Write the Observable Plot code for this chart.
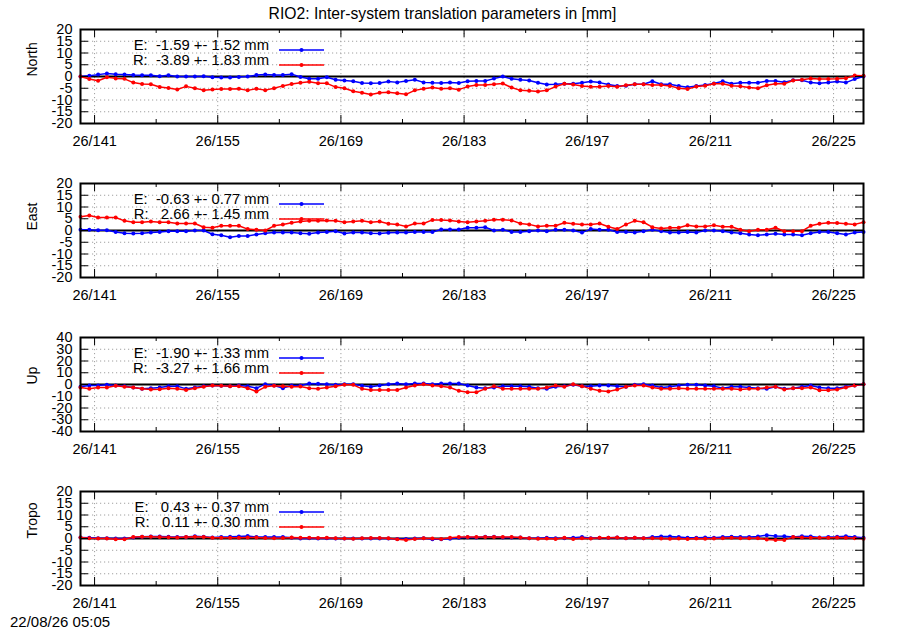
<!DOCTYPE html>
<html><head><meta charset="utf-8">
<script src="https://cdn.jsdelivr.net/npm/d3@7"></script>
<script src="https://cdn.jsdelivr.net/npm/@observablehq/plot@0.6"></script>
<style>
html,body{margin:0;padding:0;background:#fff;}
#wrap{position:relative;width:900px;height:630px;overflow:hidden;font-family:"Liberation Sans",Arial,Helvetica,sans-serif;color:#000;}
.title{position:absolute;left:0;width:885px;top:5px;text-align:center;font-size:15.7px;line-height:18px;}
.stamp{position:absolute;left:10px;top:613px;font-size:15px;line-height:17px;}
.panel{position:absolute;left:0;}
.legtext{position:absolute;left:0;width:269px;text-align:right;font-size:14.8px;line-height:16px;white-space:pre;}
.legkey{position:absolute;left:279px;width:45px;height:10px;}
</style>
</head><body>
<div id="wrap"></div>
<script>
// ---------------- data ----------------
const titleText = "RIO2: Inter-system translation parameters in [mm]";
const stampText = "22/08/26 05:05";
const panelNames = ["North", "East", "Up", "Tropo"];

const days = [139.4,140.4,141.4,142.4,143.4,144.4,145.4,146.4,147.4,148.4,
  149.4,150.4,151.4,152.4,153.4,154.4,155.4,156.4,157.4,158.4,
  159.4,160.4,161.4,162.4,163.4,164.4,165.4,166.4,167.4,168.4,
  169.4,170.4,171.4,172.4,173.4,174.4,175.4,176.4,177.4,178.4,
  179.4,180.4,181.4,182.4,183.4,184.4,185.4,186.4,187.4,188.4,
  189.4,190.4,191.4,192.4,193.4,194.4,195.4,196.4,197.4,198.4,
  199.4,200.4,201.4,202.4,203.4,204.4,205.4,206.4,207.4,208.4,
  209.4,210.4,211.4,212.4,213.4,214.4,215.4,216.4,217.4,218.4,
  219.4,220.4,221.4,222.4,223.4,224.4,225.4,226.4,227.4,228.4];

const xMajor = [141, 155, 169, 183, 197, 211, 225];
const xMinor = [148, 162, 176, 190, 204, 218];
const xTickLabels = ["26/141","26/155","26/169","26/183","26/197","26/211","26/225"];

const northE = [0,0.3,0.8,1.3,1.0,0.8,0.6,0.5,0.5,0.1,0.5,0,0,0,0.1,-0.3,-0.4,-0.4,-0.2,0,
  0.6,0.8,0.6,0.6,1.0,-0.2,-1.0,-1.0,-0.3,-1.4,-1.7,-2.0,-2.8,-2.9,-2.8,-2.1,-2.5,-1.9,-1.4,-2.5,
  -2.7,-2.8,-2.6,-2.8,-2.0,
  -1.9,-1.9,-0.9,0,-1.0,-1.4,-1.7,-2.7,-3.4,-3.3,-3.1,-3.1,-2.7,-2.1,-2.6,-3.4,-4.0,-3.9,-3.3,-3.3,
  -2.0,-3.3,-3.3,-4.0,-4.6,-4.0,-3.6,-3.0,-2.0,-3.1,-2.7,-2.7,-2.7,-1.9,-1.9,-2.4,-1.6,-1.6,-2.6,-2.9,
  -2.6,-2.1,-2.6,-1.1,0];
const northR = [0,-1.1,-1.8,-0.3,-0.8,-1.0,-2.6,-3.2,-3.3,-4.5,-4.9,-5.5,-4.2,-5.0,-5.8,-5.5,-5.3,-5.3,-5.2,-5.9,
  -5.2,-5.8,-5.0,-4.0,-3.2,-2.7,-2.2,-2.9,-2.9,-4.5,-5.0,-6.3,-6.9,-7.7,-6.9,-6.7,-7.1,-7.6,-5.9,-5.2,
  -4.7,-5.2,-5.0,-5.6,-4.3,
  -3.6,-3.6,-3.3,-3.0,-4.7,-5.9,-6.1,-6.4,-5.9,-4.3,-3.1,-3.4,-4.0,-4.4,-4.4,-4.0,-4.4,-3.7,-3.3,-3.3,
  -3.6,-3.6,-4.0,-5.0,-5.3,-4.3,-3.9,-3.1,-3.1,-3.9,-4.1,-4.7,-5.0,-3.7,-3.1,-3.1,-1.7,-1.4,-0.9,-1.1,
  -1.1,-1.0,-0.7,0.4,0.3];

const eastE = [0.3,0.3,0.1,0.1,-0.6,-1.2,-1.3,-1.2,-0.9,-0.6,-0.3,-0.3,-0.3,0,0,-1.6,-2.0,-2.9,-2.3,-2.3,
  -1.7,-1.2,-0.9,-0.9,-0.9,-1.2,-1.4,-0.9,-0.6,-0.3,-1.3,-0.9,-0.9,-1.2,-1.3,-1.0,-0.9,-0.9,-0.6,-0.6,
  -0.6,0.4,0.4,0.4,1.2,
  1.2,1.4,0,0.3,-0.6,-0.6,-0.3,0,-0.3,0.3,0.3,0,-0.9,0.6,0.3,0.3,-0.6,-0.6,-0.9,-0.3,
  0.3,-0.3,-0.9,-0.9,-0.6,-0.9,0,0,-0.3,-0.9,-1.2,-1.7,-2.0,-1.7,-1.4,-1.7,-1.7,-2.0,-1.2,-0.6,
  -0.6,-1.2,-1.7,-0.9,-0.6];
const eastR = [5.9,6.4,5.5,5.5,5.5,4.1,3.5,3.5,3.8,3.5,3.5,3.0,3.0,3.0,1.4,1.2,2.0,2.0,2.0,0.6,
  0.3,0,2.0,2.6,3.3,3.8,4.1,4.1,4.3,4.1,3.5,3.8,4.1,3.5,3.8,2.9,2.6,1.7,3.0,3.0,
  4.5,4.5,4.3,3.8,3.5,
  3.8,4.1,4.6,4.6,4.3,3.0,2.6,1.7,2.0,2.0,3.3,2.9,2.6,2.6,3.0,1.6,0.6,2.6,4.1,3.5,
  1.4,0.9,1.2,1.2,2.2,1.7,1.7,2.2,1.6,1.6,0.3,-0.3,0.3,0.3,1.2,-0.3,-0.3,-0.3,2.0,2.9,
  3.3,3.2,2.9,2.6,3.5];

const upE = [-2.0,-0.9,-0.9,-0.3,-0.9,-1.4,-2.6,-3.7,-3.1,-2.6,-1.4,-1.4,-3.7,-2.6,-1.4,-0.9,-1.1,-1.4,-0.9,-1.4,
  -3.1,0.3,-0.9,-3.1,-0.9,-0.9,0.9,0.6,0.3,-0.3,0.3,0.3,-1.1,-2.0,-0.9,0.3,0.9,0.3,0.9,0.9,
  0.3,0.9,0.9,0.9,-0.9,
  -2.6,-3.1,-2.6,-1.4,-1.4,-1.4,-2.0,-3.1,-3.7,-2.0,-1.4,-0.3,-1.4,-1.4,-0.9,-0.9,-1.4,-2.0,-0.3,0.3,
  -0.9,-2.6,-2.0,-0.9,-0.3,-0.3,-0.9,-1.4,-3.1,-2.0,-2.0,-2.6,-3.1,-3.7,-2.0,-3.7,-3.1,-2.0,-0.9,-2.6,
  -3.1,-3.1,-2.0,-0.9,0.3];
const upR = [-2.6,-3.7,-2.6,-2.6,-1.1,-2.0,-2.6,-3.7,-4.3,-4.0,-3.1,-3.7,-4.6,-3.1,-2.0,-0.9,-1.1,-1.4,-1.4,-3.1,
  -6.0,-2.0,-1.1,-1.4,-2.0,-1.7,-3.1,-3.7,-2.6,-1.4,-0.3,-0.3,-3.7,-4.6,-4.6,-4.6,-4.6,-2.6,-0.9,0.3,
  -0.9,-1.4,-2.6,-5.4,-6.6,
  -6.6,-3.7,-1.4,-3.7,-3.7,-3.7,-3.7,-3.7,-2.6,-0.9,-2.0,0.3,-1.4,-3.7,-5.4,-6.0,-4.3,-2.0,-0.9,-0.9,
  -2.6,-3.7,-3.7,-3.1,-3.7,-3.7,-3.7,-3.7,-3.7,-3.7,-4.3,-3.7,-3.7,-2.6,-2.0,-4.3,-3.1,-3.1,-2.6,-4.9,
  -4.9,-4.3,-2.6,-0.9,0.3];

const tropoE = [0.4,0.3,0.1,0.1,0,0,0.4,0.7,0.9,0.9,0.7,0.6,0.6,1.0,0.7,0.4,0.6,0.7,0.9,1.1,
  0.6,0.6,0.6,0.6,0.3,0,0.1,0,0.1,0,0,0,0,0,0,0,-0.2,-0.2,0,0.1,
  -0.3,-0.3,-0.1,0.3,0.5,
  0.4,0.7,0.7,0.4,0.4,0.4,0.1,0.1,0.3,0.1,0.1,0.3,0.6,0.1,0.3,0.3,0.4,0.1,0.3,0.1,
  0.6,0.9,0.9,0.6,0.3,0.3,0.4,0.3,0.6,0.7,0.6,0.6,0.9,1.4,1.1,1.0,0.6,1.0,0.9,0.4,
  0.6,0.7,1.0,0.6,0.3];
const tropoR = [0.4,0.1,0,0,-0.3,-0.3,0.6,0.7,0.7,0.6,0.5,0.4,0.6,0.7,0.6,0.3,0.3,0.3,0.3,0.4,
  0.4,0.2,0.1,0.2,0.4,0.3,0.3,0.2,0.3,0.1,0,-0.1,0.1,0.2,0.2,0.1,-0.3,-0.6,-0.2,0.1,
  0,-0.2,0.3,0.6,0.6,
  0.6,0.6,0.6,0.6,0.6,0.4,0.1,-0.1,0,-0.2,0.3,-0.2,0.1,0,0.3,0.3,0.4,0.1,0.3,0.1,
  0.1,0,-0.1,0,-0.2,0,-0.1,0,0.1,0.3,0.1,0.1,0.1,-0.4,-0.6,-0.6,0.6,0.4,0.3,0.3,
  0.3,0.4,0.3,0.1,-0.1];

const ticks20 = [-20,-15,-10,-5,0,5,10,15,20];
const ticks40 = [-40,-30,-20,-10,0,10,20,30,40];

const legendEmean = [-1.59, -0.63, -1.90, 0.43];
const legendEsd   = [1.52, 0.77, 1.33, 0.37];
const legendRmean = [-3.89, 2.66, -3.27, 0.11];
const legendRsd   = [1.83, 1.45, 1.66, 0.30];

const seriesE = [northE, eastE, upE, tropoE];
const seriesR = [northR, eastR, upR, tropoR];
const yTickSets = [ticks20, ticks20, ticks40, ticks20];

const colorE = "#0000ff", colorR = "#ff0000";

// ---------------- layout ----------------
const W = 900, H = 150, MT = 10, MB = 46, ML = 80, MR = 37;
const IW = W - ML - MR, IH = H - MT - MB;
const panelTops = [29, 183, 337, 491];
const xDomain = [139.4, 228.4];

const wrap = document.getElementById("wrap");

const t = document.createElement("div");
t.className = "title"; t.textContent = titleText; wrap.appendChild(t);

function fmtLeg(tag, m, s) {
  return `${tag}: ${m.toFixed(2).padStart(6)} +- ${s.toFixed(2)} mm`;
}

function keySvg(color) {
  const ns = "http://www.w3.org/2000/svg";
  const svg = document.createElementNS(ns, "svg");
  svg.setAttribute("width", 45); svg.setAttribute("height", 10);
  const l = document.createElementNS(ns, "line");
  l.setAttribute("x1", 0); l.setAttribute("x2", 45); l.setAttribute("y1", 5); l.setAttribute("y2", 5);
  l.setAttribute("stroke", color); l.setAttribute("stroke-width", 1.5);
  const c = document.createElementNS(ns, "circle");
  c.setAttribute("cx", 22.5); c.setAttribute("cy", 5); c.setAttribute("r", 2); c.setAttribute("fill", color);
  svg.appendChild(l); svg.appendChild(c);
  return svg;
}

panelNames.forEach((name, p) => {
  const rows = days.map((d, i) => ({day: d, e: seriesE[p][i], r: seriesR[p][i]}));
  const yt = yTickSets[p];
  const yDomain = [yt[0], yt[yt.length - 1]];
  const chart = Plot.plot({
    width: W, height: H,
    marginTop: MT, marginBottom: MB, marginLeft: ML, marginRight: MR,
    style: {fontFamily: '"Liberation Sans", Arial, Helvetica, sans-serif', fontSize: "14.5px", color: "#000", background: "transparent", overflow: "visible"},
    x: {domain: xDomain},
    y: {domain: yDomain},
    marks: [
      Plot.gridY(yt, {stroke: "#a0a0a0", strokeOpacity: 1, strokeDasharray: "1.2,2.8", strokeWidth: 1}),
      Plot.gridX(xMajor, {stroke: "#a0a0a0", strokeOpacity: 1, strokeDasharray: "1.2,2.8", strokeWidth: 1}),
      Plot.ruleY([0], {stroke: "#000", strokeWidth: 2}),
      Plot.line(rows, {x: "day", y: "e", stroke: colorE, strokeWidth: 1.5}),
      Plot.dot(rows, {x: "day", y: "e", fill: colorE, r: 2}),
      Plot.line(rows, {x: "day", y: "r", stroke: colorR, strokeWidth: 1.5}),
      Plot.dot(rows, {x: "day", y: "r", fill: colorR, r: 2}),
      Plot.tickX(xMajor, {x: d => d, insetTop: IH - 8, stroke: "#000"}),
      Plot.tickX(xMajor, {x: d => d, insetBottom: IH - 8, stroke: "#000"}),
      Plot.tickX(xMinor, {x: d => d, insetTop: IH - 4, stroke: "#000"}),
      Plot.tickX(xMinor, {x: d => d, insetBottom: IH - 4, stroke: "#000"}),
      Plot.tickY(yt, {y: d => d, insetRight: IW - 8, stroke: "#000"}),
      Plot.tickY(yt, {y: d => d, insetLeft: IW - 8, stroke: "#000"}),
      Plot.frame({stroke: "#000", strokeWidth: 2}),
      Plot.axisX(xMajor, {tickSize: 0, tickPadding: 12, tickFormat: d => xTickLabels[xMajor.indexOf(d)], label: null, fontSize: 14.5}),
      Plot.axisY(yt, {tickSize: 0, tickPadding: 8, tickFormat: d => String(d), label: null, fontSize: 14.5}),
      Plot.text([name], {text: d => d, frameAnchor: "left", rotate: -90, dx: -48, fontSize: 14, fill: "#000"})
    ]
  });
  const holder = document.createElement("div");
  holder.className = "panel";
  holder.style.top = (panelTops[p] - MT) + "px";
  holder.appendChild(chart);
  wrap.appendChild(holder);

  const rowsLeg = [
    [fmtLeg("E", legendEmean[p], legendEsd[p]), colorE, 16.7],
    [fmtLeg("R", legendRmean[p], legendRsd[p]), colorR, 31.8]
  ];
  rowsLeg.forEach(([txt, col, off]) => {
    const d = document.createElement("div");
    d.className = "legtext";
    d.style.top = (panelTops[p] + off - 8.7) + "px";
    d.textContent = txt;
    wrap.appendChild(d);
    const k = document.createElement("div");
    k.className = "legkey";
    k.style.top = (panelTops[p] + off - 5) + "px";
    k.appendChild(keySvg(col));
    wrap.appendChild(k);
  });
});

const s = document.createElement("div");
s.className = "stamp"; s.textContent = stampText; wrap.appendChild(s);
</script>
</body></html>
